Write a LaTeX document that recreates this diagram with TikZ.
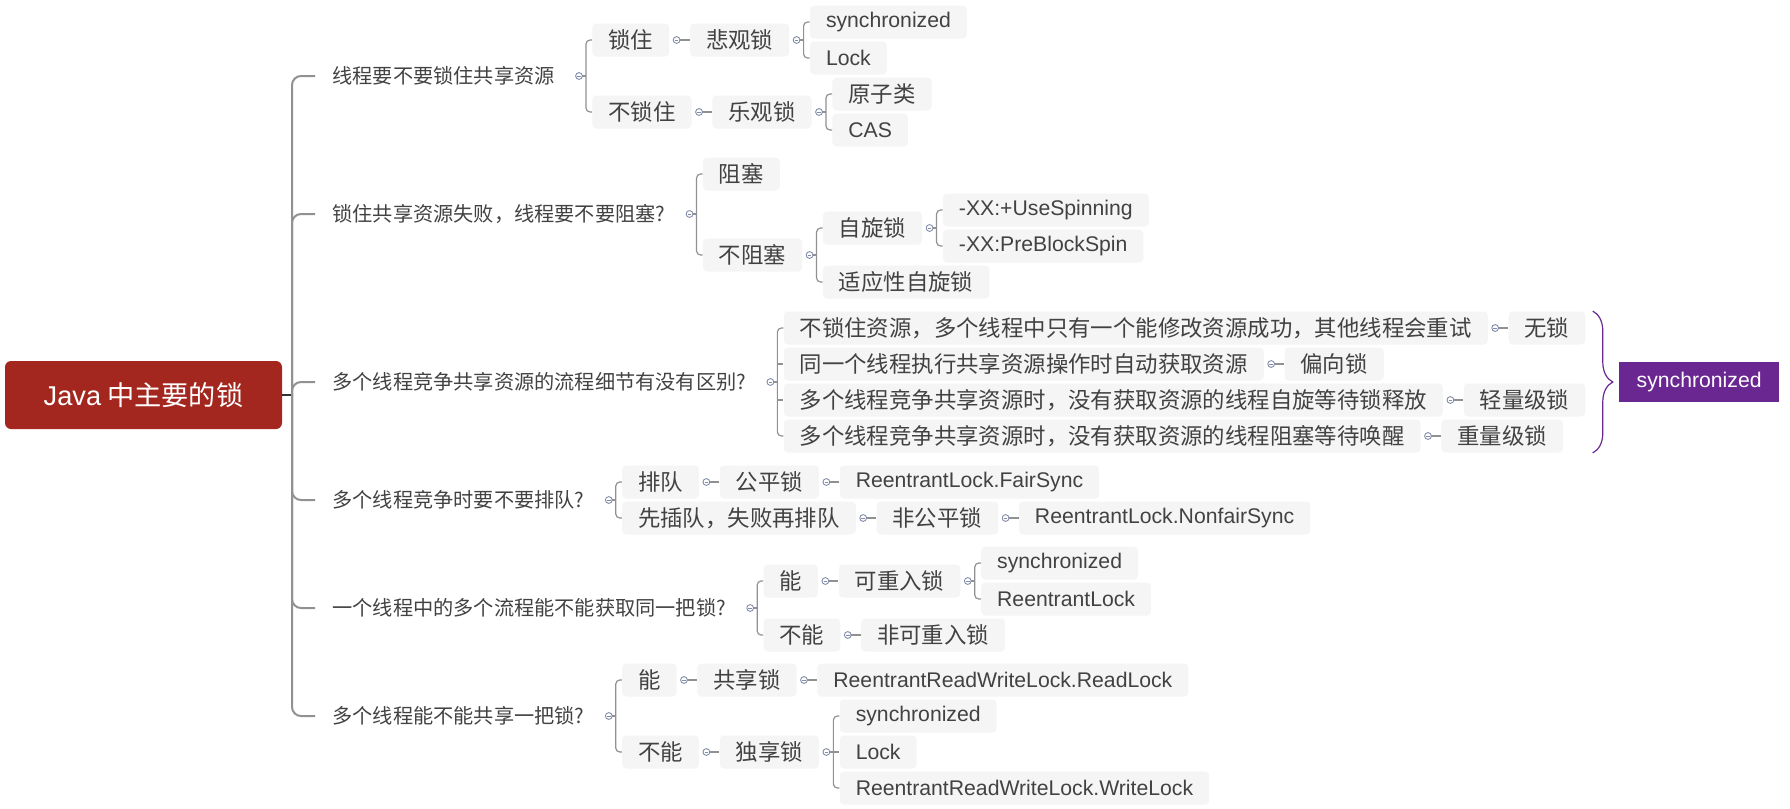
\documentclass[tikz,border=0pt]{standalone}
\usepackage{fontspec}
\setmainfont{Noto Sans CJK SC}
\newfontfamily\latfont{Liberation Sans}
\usepackage{tikz}
\usetikzlibrary{positioning,calc,decorations.pathreplacing}
\definecolor{rootred}{RGB}{163,39,31}
\definecolor{syncpurple}{RGB}{106,38,145}
\definecolor{ink}{RGB}{66,66,66}
\definecolor{boxgray}{RGB}{245,245,245}
\definecolor{linegray}{RGB}{145,145,145}
\definecolor{toggray}{RGB}{130,140,170}
% collapse toggle right of a node
\newcommand{\togat}[1]{%
  \path (#1.east) ++(3.5pt,0) coordinate (tg);
  \filldraw[tog] (tg) circle (1.7pt);
  \draw[tog] ($(tg)+(-0.9pt,0)$) -- ($(tg)+(0.9pt,0)$);}
\newcommand{\linkone}[2]{\draw[link] (#1.east) ++(3.5pt,0) -- (#2.west); \togat{#1}}
\newcommand{\linkmany}[3]{%
  \path (#1.east) ++(7pt,0) coordinate (br);
  \draw[link, rounded corners=2pt] (#2.west) -| (br) |- (#3.west);
  \draw[link] (#1.east) ++(3.5pt,0) -- (br);
  \togat{#1}}
\newcommand{\linkmid}[1]{\draw[link] (br |- #1.west) -- (#1.west);}

\begin{document}
\begin{tikzpicture}[
    x=0.5pt, y=-0.5pt,
    root/.style={fill=rootred, text=white, rounded corners=3pt, minimum width=138.5pt,
                 minimum height=34pt, font=\fontsize{13.6}{15}\selectfont},
    topic/.style={anchor=west, text=ink, inner xsep=8.5pt, minimum height=17pt,
                  font=\fontsize{10.1}{12}\selectfont},
    leaf/.style={fill=boxgray, text=ink, rounded corners=2pt, inner xsep=8pt, inner ysep=0pt,
                 minimum height=16.5pt, font=\fontsize{11.2}{13}\selectfont},
    leafl/.style={leaf, font=\latfont\fontsize{10.6}{12}\selectfont},
    sync/.style={fill=syncpurple, text=white, minimum width=80pt, minimum height=20pt,
                 font=\latfont\fontsize{10.6}{12}\selectfont},
    trunk/.style={draw=linegray, line width=1pt},
    link/.style={draw=linegray, line width=0.6pt},
    tog/.style={draw=toggray, fill=white, line width=0.45pt},
  ]
  \useasboundingbox (0,0) rectangle (1790,809);

  \node[root] (rt) at (143.5,395) {{\latfont Java} 中主要的锁};
  \coordinate (jn) at (292,395);

  \node[topic] (q1) at (315,76)  {线程要不要锁住共享资源};
  \node[topic] (q2) at (315,214) {锁住共享资源失败，线程要不要阻塞?};
  \node[topic] (q3) at (315,382) {多个线程竞争共享资源的流程细节有没有区别?};
  \node[topic] (q4) at (315,500) {多个线程竞争时要不要排队?};
  \node[topic] (q5) at (315,608) {一个线程中的多个流程能不能获取同一把锁?};
  \node[topic] (q6) at (315,716) {多个线程能不能共享一把锁?};

  \draw[line width=1pt, black!80] (rt.east) -- (jn);
  \foreach \q in {q1,q2,q3,q4,q5,q6}
    \draw[trunk, rounded corners=4.5pt] (jn) |- (\q.west);

  % lock or not
  \node[leaf, right=10pt of q1, yshift=18pt] (a1) {锁住};
  \node[leaf, right=10pt of q1, yshift=-18pt] (a2) {不锁住};
  \node[leaf, right=10pt of a1] (a1p) {悲观锁};
  \node[leafl, right=10pt of a1p, yshift=9pt] (a1s) {synchronized};
  \node[leafl, right=10pt of a1p, yshift=-9pt] (a1l) {Lock};
  \node[leaf, right=10pt of a2] (a2o) {乐观锁};
  \node[leaf, right=10pt of a2o, yshift=9pt] (a2a) {原子类};
  \node[leafl, right=10pt of a2o, yshift=-9pt] (a2c) {CAS};
  \linkmany{q1}{a1}{a2}
  \linkone{a1}{a1p} \linkone{a2}{a2o}
  \linkmany{a1p}{a1s}{a1l}
  \linkmany{a2o}{a2a}{a2c}

  % block or not
  \node[leaf, right=10pt of q2, yshift=20pt] (b1) {阻塞};
  \node[leaf, right=10pt of q2, yshift=-20.5pt] (b2) {不阻塞};
  \node[leaf, right=10pt of b2, yshift=13.5pt] (b2s) {自旋锁};
  \node[leaf, right=10pt of b2, yshift=-13.5pt] (b2a) {适应性自旋锁};
  \node[leafl, right=10pt of b2s, yshift=9pt] (b2u) {-XX:+UseSpinning};
  \node[leafl, right=10pt of b2s, yshift=-9pt] (b2p) {-XX:PreBlockSpin};
  \linkmany{q2}{b1}{b2}
  \linkmany{b2}{b2s}{b2a}
  \linkmany{b2s}{b2u}{b2p}

  % lock states
  \node[leaf, right=10pt of q3, yshift=27pt] (c1) {不锁住资源，多个线程中只有一个能修改资源成功，其他线程会重试};
  \node[leaf, right=10pt of q3, yshift=9pt] (c2) {同一个线程执行共享资源操作时自动获取资源};
  \node[leaf, right=10pt of q3, yshift=-9pt] (c3) {多个线程竞争共享资源时，没有获取资源的线程自旋等待锁释放};
  \node[leaf, right=10pt of q3, yshift=-27pt] (c4) {多个线程竞争共享资源时，没有获取资源的线程阻塞等待唤醒};
  \node[leaf, right=10pt of c1] (c1k) {无锁};
  \node[leaf, right=10pt of c2] (c2k) {偏向锁};
  \node[leaf, right=10pt of c3] (c3k) {轻量级锁};
  \node[leaf, right=10pt of c4] (c4k) {重量级锁};
  \linkmany{q3}{c1}{c4}
  \linkmid{c2} \linkmid{c3}
  \linkone{c1}{c1k} \linkone{c2}{c2k} \linkone{c3}{c3k} \linkone{c4}{c4k}

  \coordinate (bt) at ($(c1k.north east)+(3.5pt,0)$);
  \coordinate (bb) at (bt |- c4k.south);
  \draw[syncpurple, line width=0.6pt, decorate, decoration={brace, amplitude=10pt}] (bt) -- (bb);
  \node[sync, anchor=west] (sync) at ($(bt)!0.5!(bb)+(13pt,0)$) {synchronized};

  % queue or not
  \node[leaf, right=10pt of q4, yshift=9pt] (d1) {排队};
  \node[leaf, right=10pt of q4, yshift=-9pt] (d2) {先插队，失败再排队};
  \node[leaf, right=10pt of d1] (d1f) {公平锁};
  \node[leafl, right=10pt of d1f] (d1r) {ReentrantLock.FairSync};
  \node[leaf, right=10pt of d2] (d2f) {非公平锁};
  \node[leafl, right=10pt of d2f] (d2r) {ReentrantLock.NonfairSync};
  \linkmany{q4}{d1}{d2}
  \linkone{d1}{d1f} \linkone{d1f}{d1r}
  \linkone{d2}{d2f} \linkone{d2f}{d2r}

  % reentrant or not
  \node[leaf, right=10pt of q5, yshift=13.5pt] (e1) {能};
  \node[leaf, right=10pt of q5, yshift=-13.5pt] (e2) {不能};
  \node[leaf, right=10pt of e1] (e1r) {可重入锁};
  \node[leafl, right=10pt of e1r, yshift=9pt] (e1s) {synchronized};
  \node[leafl, right=10pt of e1r, yshift=-9pt] (e1l) {ReentrantLock};
  \node[leaf, right=10pt of e2] (e2r) {非可重入锁};
  \linkmany{q5}{e1}{e2}
  \linkone{e1}{e1r} \linkone{e2}{e2r}
  \linkmany{e1r}{e1s}{e1l}

  % shared or exclusive
  \node[leaf, right=10pt of q6, yshift=18pt] (f1) {能};
  \node[leaf, right=10pt of q6, yshift=-18pt] (f2) {不能};
  \node[leaf, right=10pt of f1] (f1s) {共享锁};
  \node[leafl, right=10pt of f1s] (f1r) {ReentrantReadWriteLock.ReadLock};
  \node[leaf, right=10pt of f2] (f2x) {独享锁};
  \node[leafl, right=10pt of f2x, yshift=18pt] (f2s) {synchronized};
  \node[leafl, right=10pt of f2x] (f2l) {Lock};
  \node[leafl, right=10pt of f2x, yshift=-18pt] (f2w) {ReentrantReadWriteLock.WriteLock};
  \linkmany{q6}{f1}{f2}
  \linkone{f1}{f1s} \linkone{f1s}{f1r}
  \linkone{f2}{f2x}
  \linkmany{f2x}{f2s}{f2w}
  \linkmid{f2l}
\end{tikzpicture}
\end{document}
